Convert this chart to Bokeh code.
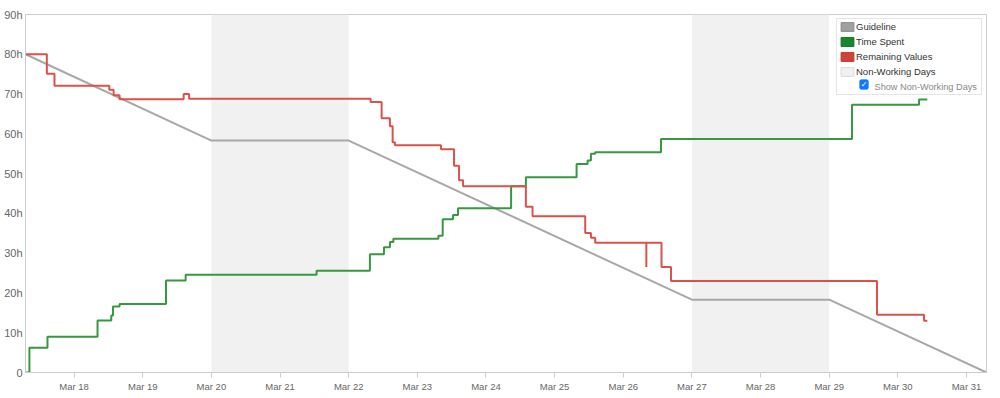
import pandas as pd
from bokeh.plotting import figure
from bokeh.models import (ColumnDataSource, Range1d, BoxAnnotation, Legend, LegendItem,
                          Label, FixedTicker, DaysTicker, DatetimeTickFormatter)
from bokeh.embed import file_html
from bokeh.resources import INLINE

# ---------------- data ----------------
range_start = "2021-03-17 07:00"
range_end = "2021-03-31 07:00"

guide_times = ["2021-03-17 07:00", "2021-03-20 00:00", "2021-03-22 00:00",
               "2021-03-27 00:00", "2021-03-29 00:00", "2021-03-31 07:00"]
guide_hours = [80.0, 58.3, 58.3, 18.3, 18.3, 0.0]

spent_times = ["2021-03-17 07:00", "2021-03-17 08:22", "2021-03-17 14:41",
               "2021-03-18 08:11", "2021-03-18 12:59", "2021-03-18 13:35",
               "2021-03-18 15:53", "2021-03-19 08:08", "2021-03-19 15:00",
               "2021-03-21 12:46", "2021-03-22 07:25", "2021-03-22 12:20",
               "2021-03-22 14:25", "2021-03-22 15:37", "2021-03-23 07:22",
               "2021-03-23 08:52", "2021-03-23 12:29", "2021-03-23 14:14",
               "2021-03-24 08:47", "2021-03-24 13:57", "2021-03-25 07:41",
               "2021-03-25 11:32", "2021-03-25 12:42", "2021-03-25 14:11",
               "2021-03-26 13:12", "2021-03-29 07:58", "2021-03-30 07:25",
               "2021-03-30 10:19"]
spent_hours = [0.0, 6.2, 9.0,
               13.1, 14.3, 16.6,
               17.2, 23.1, 24.6,
               25.6, 29.7, 31.5,
               32.8, 33.6, 34.4,
               38.5, 39.6, 41.3,
               46.8, 49.1, 52.4,
               53.3, 55.0, 55.4,
               58.7, 67.3, 68.6,
               68.6]

remaining_times = ["2021-03-17 07:00", "2021-03-17 14:28", "2021-03-17 17:08",
                   "2021-03-18 12:17", "2021-03-18 13:48", "2021-03-18 15:53",
                   "2021-03-19 14:18", "2021-03-19 16:12", "2021-03-22 07:40",
                   "2021-03-22 11:31", "2021-03-22 14:25", "2021-03-22 15:22",
                   "2021-03-22 16:10", "2021-03-23 08:17", "2021-03-23 12:50",
                   "2021-03-23 14:35", "2021-03-23 15:59", "2021-03-24 13:57",
                   "2021-03-24 16:17", "2021-03-25 10:42", "2021-03-25 12:42",
                   "2021-03-25 14:11", "2021-03-26 08:04", "2021-03-26 08:04",
                   "2021-03-26 13:22", "2021-03-26 16:42", "2021-03-29 16:43",
                   "2021-03-30 09:10", "2021-03-30 10:19"]
remaining_hours = [80.0, 75.1, 72.1,
                   71.1, 69.7, 68.7,
                   70.0, 68.8, 68.0,
                   63.9, 61.9, 57.9,
                   57.1, 56.1, 52.0,
                   48.3, 46.8, 41.7,
                   39.3, 35.1, 33.9,
                   32.6, 26.5, 32.6,
                   26.5, 23.0, 14.5,
                   13.0, 13.0]

nonworking_starts = ["2021-03-20", "2021-03-27"]
nonworking_ends = ["2021-03-22", "2021-03-29"]

y_ticks = [0, 10, 20, 30, 40, 50, 60, 70, 80, 90]
y_tick_labels = ["0", "10h", "20h", "30h", "40h", "50h", "60h", "70h", "80h", "90h"]

legend_labels = ["Guideline", "Time Spent", "Remaining Values", "Non-Working Days"]
checkbox_label = "Show Non-Working Days"

# ---------------- styles ----------------
FONT = "Liberation Sans"
C_GUIDE = "#a8a8a8"
C_SPENT = "#36993f"
C_REMAIN = "#d9534a"
C_NONWORK = "#f1f1f1"

FW, FH = 961, 358
NAN = float("nan")

p = figure(frame_width=FW, frame_height=FH, x_axis_type="datetime",
           x_range=Range1d(pd.Timestamp(range_start), pd.Timestamp(range_end)),
           y_range=Range1d(0, 90),
           output_backend="svg", toolbar_location=None,
           min_border_left=25, min_border_right=6, min_border_top=14, min_border_bottom=0)
p.background_fill_color = "white"
p.border_fill_color = "white"
p.outline_line_color = "#cccccc"
p.xgrid.visible = False
p.ygrid.visible = False

# non-working day shading
for s, e in zip(nonworking_starts, nonworking_ends):
    p.add_layout(BoxAnnotation(left=pd.Timestamp(s).timestamp() * 1000,
                               right=pd.Timestamp(e).timestamp() * 1000,
                               fill_color=C_NONWORK, fill_alpha=1.0,
                               line_alpha=0, level="underlay"))

guide_src = ColumnDataSource(dict(t=pd.to_datetime(guide_times), v=guide_hours))
spent_src = ColumnDataSource(dict(t=pd.to_datetime(spent_times), v=spent_hours))
remain_src = ColumnDataSource(dict(t=pd.to_datetime(remaining_times), v=remaining_hours))

p.line("t", "v", source=guide_src, line_color=C_GUIDE, line_width=2)
p.step("t", "v", source=spent_src, mode="after", line_color=C_SPENT, line_width=2)
p.step("t", "v", source=remain_src, mode="after", line_color=C_REMAIN, line_width=2)

# axes
xa = p.xaxis[0]
xa.ticker = DaysTicker(days=list(range(1, 32)))
xa.formatter = DatetimeTickFormatter(days="%b %d", months="%b %d", hours="%b %d")
xa.axis_line_color = "#cccccc"
xa.major_tick_line_color = "#cccccc"
xa.major_tick_out = 5
xa.major_tick_in = 0
xa.minor_tick_out = 0
xa.minor_tick_in = 0
xa.major_label_standoff = 3
xa.major_label_text_font = FONT
xa.major_label_text_font_size = "9.5px"
xa.major_label_text_color = "#666666"

ya = p.yaxis[0]
ya.ticker = FixedTicker(ticks=y_ticks)
ya.major_label_overrides = {t: l for t, l in zip(y_ticks, y_tick_labels)}
ya.axis_line_color = "#cccccc"
ya.major_tick_out = 0
ya.major_tick_in = 0
ya.minor_tick_out = 0
ya.minor_tick_in = 0
ya.major_label_standoff = 3
ya.major_label_text_font = FONT
ya.major_label_text_font_size = "11px"
ya.major_label_text_color = "#666666"

# legend swatches (area renderers with no drawable rows)
swatch_fills = ["#a0a0a0", "#14892c", "#d04437", "#f0f0f0"]
swatch_lines = ["#8c8c8c", "#0f7424", "#b83a2e", "#dadada"]
items = []
for lab, fc, lc in zip(legend_labels, swatch_fills, swatch_lines):
    r = p.quad(left=[NAN], right=[NAN], top=[NAN], bottom=[NAN],
               fill_color=fc, line_color=lc)
    items.append(LegendItem(label=lab, renderers=[r]))
r_blank = p.quad(left=[NAN], right=[NAN], top=[NAN], bottom=[NAN],
                 fill_alpha=0, line_alpha=0)
items.append(LegendItem(label=" ", renderers=[r_blank]))

legend = Legend(items=items, location="top_right", margin=4, padding=2, spacing=4,
                glyph_width=16, glyph_height=11, label_height=11, label_width=123,
                label_standoff=1, label_text_font=FONT, label_text_font_size="9.5px",
                label_text_color="#333333", border_line_color="#cccccc",
                background_fill_alpha=0.0)
p.add_layout(legend)

# checkbox row
p.add_layout(BoxAnnotation(left=FW - 127, right=FW - 118, top=FH - 65, bottom=FH - 75,
                           left_units="screen", right_units="screen",
                           top_units="screen", bottom_units="screen",
                           fill_color="#0b7dfa", fill_alpha=1.0, line_color="#0b7dfa",
                           border_radius=2, level="overlay"))
p.add_layout(Label(x=FW - 122.5, y=FH - 70, x_units="screen", y_units="screen",
                   text="\u2713", text_color="white", text_font="DejaVu Sans",
                   text_font_size="8px", text_font_style="bold",
                   text_align="center", text_baseline="middle", level="overlay"))
p.add_layout(Label(x=FW - 112, y=FH - 72, x_units="screen", y_units="screen",
                   text=checkbox_label, text_color="#888888", text_font=FONT,
                   text_font_size="9.2px", text_baseline="middle", level="overlay"))

open("out.html", "w").write(file_html(p, INLINE))
